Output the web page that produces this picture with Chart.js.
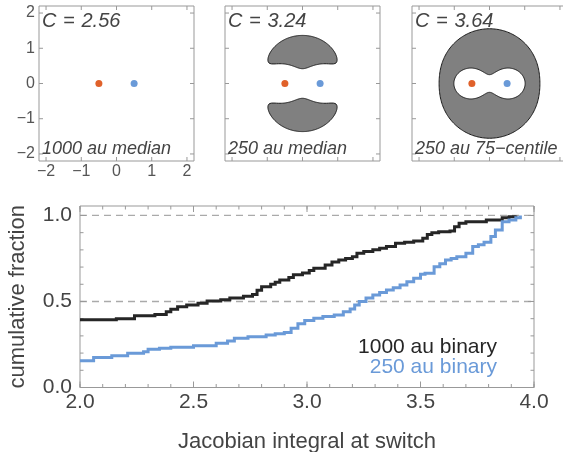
<!DOCTYPE html>
<html>
<head>
<meta charset="utf-8">
<script src="https://cdn.jsdelivr.net/npm/chart.js@4.4.1/dist/chart.umd.min.js"></script>
<style>
  html, body { margin: 0; padding: 0; background: #fff; overflow: hidden; }
  #wrap { position: relative; width: 563px; height: 452px; overflow: hidden; }
  #wrap canvas { position: absolute; }
</style>
</head>
<body>
<div id="wrap">
  <canvas id="p0" width="200" height="185" style="left:0;top:0"></canvas>
  <canvas id="p1" width="200" height="185" style="left:186px;top:0"></canvas>
  <canvas id="p2" width="200" height="185" style="left:373px;top:0"></canvas>
  <canvas id="cdf" width="563" height="265" style="left:0;top:190px"></canvas>
</div>
<script>
// Jacobi constants of the three example configurations
const jacobiC = [2.56, 3.24, 3.64];
const panelNotes = ['1000 au median', '250 au median', '250 au 75\u2212centile'];
const starX = [-0.5, 0.5];
const starMass = 0.5;
const starColors = ['#e0612a', '#6a9ad8'];
const orbitTicks = [-2, -1, 0, 1, 2];

// cumulative distributions of the Jacobian integral at switch
const seriesNames = ['1000 au binary', '250 au binary'];
const wide1000X = [2.00, 2.16, 2.24, 2.33, 2.38, 2.40, 2.43, 2.47, 2.52, 2.56, 2.62, 2.66, 2.72, 2.76, 2.78,
  2.80, 2.84, 2.86, 2.88, 2.92, 2.94, 2.98, 3.01, 3.03, 3.08, 3.11, 3.14, 3.17, 3.20, 3.22, 3.25, 3.29, 3.32,
  3.35, 3.39, 3.43, 3.47, 3.51, 3.53, 3.55, 3.58, 3.63, 3.65, 3.67, 3.70, 3.79, 3.86, 3.89, 3.92];
const wide1000Y = [0.394, 0.400, 0.417, 0.425, 0.440, 0.455, 0.470, 0.480, 0.490, 0.503, 0.510, 0.520, 0.530, 0.540, 0.565,
  0.585, 0.600, 0.612, 0.625, 0.640, 0.655, 0.665, 0.680, 0.693, 0.712, 0.730, 0.741, 0.750, 0.760, 0.780, 0.790, 0.800, 0.810,
  0.820, 0.838, 0.845, 0.852, 0.867, 0.890, 0.900, 0.906, 0.910, 0.935, 0.955, 0.964, 0.974, 0.987, 0.993, 1.000];
const close250X = [2.00, 2.06, 2.14, 2.21, 2.28, 2.30, 2.35, 2.40, 2.50, 2.60, 2.65, 2.68, 2.74, 2.82, 2.86, 2.90, 2.93,
  2.96, 2.99, 3.03, 3.07, 3.12, 3.16, 3.19, 3.21, 3.23, 3.26, 3.29, 3.32, 3.35, 3.38, 3.41, 3.44, 3.47, 3.50, 3.52,
  3.56, 3.585, 3.61, 3.635, 3.66, 3.70, 3.73, 3.755, 3.78, 3.81, 3.83, 3.86, 3.89, 3.92, 3.94];
const close250Y = [0.156, 0.175, 0.185, 0.199, 0.208, 0.222, 0.228, 0.234, 0.243, 0.257, 0.270, 0.286, 0.295, 0.305, 0.312, 0.319, 0.344,
  0.370, 0.390, 0.402, 0.412, 0.422, 0.440, 0.456, 0.480, 0.500, 0.520, 0.538, 0.552, 0.567, 0.580, 0.596, 0.615, 0.635, 0.658, 0.664,
  0.702, 0.720, 0.741, 0.750, 0.760, 0.780, 0.819, 0.830, 0.844, 0.877, 0.916, 0.964, 0.974, 0.987, 1.000];
const switchTicks = [2.0, 2.5, 3.0, 3.5, 4.0];
const fractionTicks = [0, 0.5, 1.0];

Chart.defaults.font.family = '"Liberation Sans", Arial, Helvetica, sans-serif';
Chart.defaults.color = '#444';

const steps = (a, b, d) => { const out = []; for (let v = a; v <= b + 1e-9; v += d) out.push(+v.toFixed(3)); return out; };
const xy = (xs, ys) => xs.map((x, i) => ({ x, y: ys[i] }));

// pin axis sizes so the plot frames land where wanted
function pin(w, h) {
  return s => {
    if (w != null) s.width = w;
    if (h != null) s.height = h;
    s.paddingTop = s.paddingBottom = s.paddingLeft = s.paddingRight = 0;
  };
}

// 2*Omega in the rotating frame, equal-mass binary at unit separation
function twiceOmega(x, y) {
  let s = x * x + y * y;
  for (const sx of starX) s += 2 * starMass / Math.hypot(x - sx, y);
  return s;
}

// walk out along a ray until the forbidden/allowed state flips
function crossing(cx, cy, th, C, fromR, wantForbidden) {
  const dx = Math.cos(th), dy = Math.sin(th), dr = 0.004;
  const test = r => (twiceOmega(cx + r * dx, cy + r * dy) < C) === wantForbidden;
  let r = fromR;
  while (r < 3 && !test(r + dr)) r += dr;
  if (r >= 3) return null;
  let lo = r, hi = r + dr;
  for (let k = 0; k < 30; k++) {
    const m = (lo + hi) / 2;
    if (test(m)) hi = m; else lo = m;
  }
  return hi;
}

// zero-velocity curves: each shape is a list of closed rings
function forbiddenRegions(C) {
  const n = 240, shapes = [];
  const apex = Math.abs(starX[1] - starX[0]) * Math.sqrt(3) / 2;
  if (crossing(0, 0, 0, C, 0, true) !== null) {
    const inner = [], outer = [];
    for (let i = 0; i < n; i++) {
      const th = 2 * Math.PI * i / n, c = Math.cos(th), s = Math.sin(th);
      const r1 = crossing(0, 0, th, C, 0, true);
      const r2 = crossing(0, 0, th, C, r1, false);
      inner.push([r1 * c, r1 * s]);
      outer.push([r2 * c, r2 * s]);
    }
    shapes.push([outer, inner]);
  } else if (twiceOmega(0, apex) < C) {
    for (const sg of [1, -1]) {
      const pts = [];
      for (let i = 0; i < n; i++) {
        const th = 2 * Math.PI * i / n;
        const r = crossing(0, sg * apex, th, C, 0, false);
        pts.push([r * Math.cos(th), sg * apex + r * Math.sin(th)]);
      }
      shapes.push([pts]);
    }
  }
  return shapes;
}

const hillPlugin = {
  id: 'hill',
  beforeDatasetsDraw(chart, args, o) {
    const { ctx, chartArea: a, scales: { x, y } } = chart;
    ctx.save();
    ctx.beginPath();
    ctx.rect(a.left, a.top, a.right - a.left, a.bottom - a.top);
    ctx.clip();
    ctx.fillStyle = '#808080';
    ctx.strokeStyle = '#1a1a1a';
    ctx.lineWidth = 1;
    for (const rings of forbiddenRegions(o.C)) {
      ctx.beginPath();
      for (const pts of rings) {
        pts.forEach(([px, py], i) => {
          const X = x.getPixelForValue(px), Y = y.getPixelForValue(py);
          if (i) ctx.lineTo(X, Y); else ctx.moveTo(X, Y);
        });
        ctx.closePath();
      }
      ctx.fill('evenodd');
      ctx.stroke();
    }
    ctx.restore();
  }
};

// box frame with inward ticks on all four sides, plus dashed reference lines
const framePlugin = {
  id: 'frame',
  beforeDatasetsDraw(chart, args, o) {
    const { ctx, chartArea: a, scales: { x, y } } = chart;
    ctx.save();
    if (o.dashY) {
      ctx.strokeStyle = '#aaa';
      ctx.lineWidth = 1.3;
      ctx.setLineDash([7, 5]);
      ctx.beginPath();
      for (const v of o.dashY) {
        const py = y.getPixelForValue(v);
        ctx.moveTo(a.left, py);
        ctx.lineTo(a.right, py);
      }
      ctx.stroke();
      ctx.setLineDash([]);
    }
    ctx.strokeStyle = '#999';
    ctx.lineWidth = 1;
    ctx.beginPath();
    const tickX = (vals, len) => vals.forEach(v => {
      const px = x.getPixelForValue(v);
      ctx.moveTo(px, a.bottom); ctx.lineTo(px, a.bottom - len);
      ctx.moveTo(px, a.top); ctx.lineTo(px, a.top + len);
    });
    const tickY = (vals, len) => vals.forEach(v => {
      const py = y.getPixelForValue(v);
      ctx.moveTo(a.left, py); ctx.lineTo(a.left + len, py);
      ctx.moveTo(a.right, py); ctx.lineTo(a.right - len, py);
    });
    tickX(o.xMinor || [], o.minorLen || 0);
    tickY(o.yMinor || [], o.minorLen || 0);
    tickX(o.xMajor, o.majorLen);
    tickY(o.yMajor, o.majorLen);
    ctx.rect(a.left, a.top, a.right - a.left, a.bottom - a.top);
    ctx.stroke();
    ctx.restore();
  }
};

const panelText = {
  id: 'panelText',
  afterDatasetsDraw(chart, args, o) {
    const { ctx, chartArea: a } = chart;
    ctx.save();
    ctx.fillStyle = '#444';
    ctx.textAlign = 'left';
    ctx.textBaseline = 'middle';
    ctx.font = 'italic 20px "Liberation Sans", Arial, sans-serif';
    ctx.fillText(o.title, a.left + 3, a.top + 15.5);
    ctx.font = 'italic 18px "Liberation Sans", Arial, sans-serif';
    ctx.fillText(o.note, a.left + 3, a.bottom - 12);
    ctx.restore();
  }
};

const seriesKey = {
  id: 'seriesKey',
  afterDraw(chart) {
    const { ctx, chartArea: a } = chart;
    ctx.save();
    ctx.textAlign = 'right';
    ctx.textBaseline = 'middle';
    ctx.font = '21px "Liberation Sans", Arial, sans-serif';
    chart.data.datasets.forEach((ds, i) => {
      ctx.fillStyle = ds.borderColor;
      ctx.fillText(ds.label, a.right - 37, a.bottom - 40 + i * 20);
    });
    ctx.restore();
  }
};

const minus = v => String(v).replace('-', '\u2212');

jacobiC.forEach((C, k) => {
  new Chart(document.getElementById('p' + k), {
    type: 'scatter',
    data: {
      datasets: [{
        data: starX.map(x => ({ x, y: 0 })),
        pointRadius: 3.5,
        pointBorderWidth: 0,
        pointBackgroundColor: starColors
      }]
    },
    options: {
      responsive: false,
      animation: false,
      layout: { padding: { top: 6, right: 6, left: 0, bottom: 0 } },
      plugins: {
        legend: { display: false },
        tooltip: { enabled: false },
        hill: { C },
        frame: { xMajor: orbitTicks, yMajor: orbitTicks, majorLen: 4 },
        panelText: { title: 'C\u2004=\u2004' + C.toFixed(2), note: panelNotes[k] }
      },
      scales: {
        x: {
          type: 'linear', min: -2.2, max: 2.2,
          afterBuildTicks: s => { s.ticks = orbitTicks.map(value => ({ value })); },
          afterFit: pin(null, 24),
          grid: { display: false, drawTicks: false },
          border: { display: false },
          ticks: { display: k === 0, padding: 1, color: '#555', font: { size: 16 }, callback: minus }
        },
        y: {
          type: 'linear', min: -2.2, max: 2.2,
          afterBuildTicks: s => { s.ticks = orbitTicks.map(value => ({ value })); },
          afterFit: pin(39, null),
          grid: { display: false, drawTicks: false },
          border: { display: false },
          ticks: { display: k === 0, padding: 4, color: '#555', font: { size: 16 }, callback: minus }
        }
      }
    },
    plugins: [hillPlugin, framePlugin, panelText]
  });
});

new Chart(document.getElementById('cdf'), {
  type: 'line',
  data: {
    datasets: [
      { label: seriesNames[0], data: xy(wide1000X, wide1000Y), borderColor: '#262626', order: 1 },
      { label: seriesNames[1], data: xy(close250X, close250Y), borderColor: '#6a9ad8', order: 0 }
    ]
  },
  options: {
    responsive: false,
    animation: false,
    layout: { padding: { top: 16, right: 29, left: 0, bottom: 0 } },
    elements: {
      line: { borderWidth: 3, stepped: true, tension: 0, fill: false },
      point: { radius: 0 }
    },
    plugins: {
      legend: { display: false },
      tooltip: { enabled: false },
      frame: {
        xMajor: switchTicks, xMinor: steps(2, 4, 0.1),
        yMajor: fractionTicks, yMinor: steps(0, 1, 0.1),
        majorLen: 6, minorLen: 3.5, dashY: [0.5, 1.0]
      }
    },
    scales: {
      x: {
        type: 'linear', min: 2, max: 4,
        afterBuildTicks: s => { s.ticks = switchTicks.map(value => ({ value })); },
        afterFit: pin(null, 67.5),
        grid: { display: false, drawTicks: false },
        border: { display: false },
        ticks: { padding: 2, font: { size: 21 }, callback: v => v.toFixed(1) },
        title: { display: true, text: 'Jacobian integral at switch', font: { size: 22 }, padding: { top: 0, bottom: 0 } }
      },
      y: {
        type: 'linear', min: 0, max: 1.055,
        afterBuildTicks: s => { s.ticks = fractionTicks.map(value => ({ value })); },
        afterFit: pin(80, null),
        grid: { display: false, drawTicks: false },
        border: { display: false },
        ticks: { padding: 8, font: { size: 21 }, callback: v => v.toFixed(1) },
        title: { display: true, text: 'cumulative fraction', font: { size: 22 }, padding: { top: 5, bottom: 0 } }
      }
    }
  },
  plugins: [framePlugin, seriesKey]
});
</script>
</body>
</html>
